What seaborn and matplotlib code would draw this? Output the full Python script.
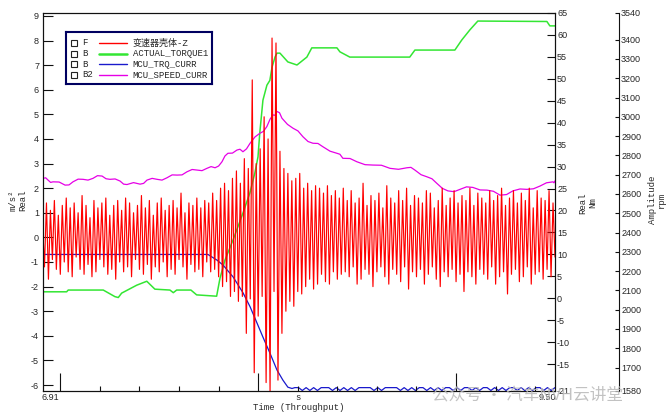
import numpy as np
import pandas as pd
import matplotlib
matplotlib.use("Agg")
import matplotlib.pyplot as plt
import seaborn as sns
from matplotlib.ticker import FixedLocator, NullFormatter

# ---------------- data ----------------
T0, T1 = 6.91, 9.50

# 变速器壳体-Z (m/s^2): one peak and one trough per cycle, cycles evenly spaced
red_hi = [
    0.6, 1.4, 1.1, 1.5, 0.9, 1.3, 1.6, 1.2, 1.4, 1.0,
    1.7, 1.3, 0.8, 1.5, 1.2, 1.4, 1.6, 0.9, 1.3, 1.5,
    1.1, 1.6, 1.4, 1.0, 1.3, 1.7, 1.2, 1.5, 0.9, 1.4,
    1.6, 1.1, 1.3, 1.5, 1.2, 1.8, 1.0, 1.4, 1.3, 1.6,
    1.2, 1.5, 1.4,
    1.8, 1.5, 2.0, 2.2, 1.9, 2.4, 2.7, 2.2, 3.2,
    2.8, 6.4, 3.0, 3.6, 4.9, 4.0, 8.1, 7.9, 3.5, 2.8, 2.6, 2.3,
    2.4, 2.6, 2.0, 2.2, 1.9, 2.1, 2.0, 1.8, 2.1, 1.7, 1.9, 1.6,
    2.0, 1.5, 1.9, 1.4, 1.6, 2.2, 1.3, 1.7, 1.5, 1.8,
    1.2, 2.1, 1.6, 1.4, 1.9, 1.5, 2.0, 1.3, 1.7, 1.6,
    1.4, 1.9, 1.8, 1.2, 1.5, 2.0, 1.3, 1.6, 1.9, 1.4,
    1.7, 1.5, 2.0, 1.3, 1.8, 1.6, 1.4, 1.9, 1.5, 1.7,
    2.0, 1.3, 1.6, 1.9, 1.4, 1.8, 1.5, 2.0, 1.2, 1.9,
    1.6, 1.5, 1.9, 1.4,
]
red_lo = [
    -1.2, -1.7, -0.9, -1.3, -1.5, -1.0, -1.4, -1.6, -0.8, -1.3,
    -1.5, -1.1, -1.6, -1.4, -0.9, -1.2, -1.5, -1.3, -1.7, -1.0,
    -1.4, -1.2, -1.6, -0.9, -1.3, -1.5, -1.1, -1.7, -1.2, -1.4,
    -1.0, -1.6, -1.3, -1.5, -0.9, -1.2, -1.7, -1.1, -1.4, -1.3,
    -1.6, -1.0, -1.4,
    -1.3, -1.6, -2.0, -1.8, -2.4, -2.2, -2.6, -2.4, -3.9,
    -2.5, -5.5, -3.2, -2.4, -5.9, -6.3, -2.2, -5.8, -3.9, -3.0, -2.6, -2.8,
    -2.2, -2.3, -2.0, -1.7, -2.1, -1.9, -1.5, -1.8, -1.9, -1.4, -1.7, -1.5,
    -1.4, -1.6, -1.2, -1.9, -1.7, -1.3, -1.5, -2.0, -1.4, -1.2,
    -1.6, -1.9, -1.3, -1.5, -1.8, -1.2, -2.1, -1.4, -1.6, -1.3,
    -1.9, -1.5, -1.2, -1.7, -2.0, -1.4, -1.6, -1.3, -1.8, -1.5,
    -2.2, -1.4, -1.6, -1.9, -1.3, -1.5, -1.7, -1.2, -1.9, -1.6,
    -1.4, -2.3, -1.5, -1.3, -1.8, -1.6, -1.2, -1.9, -1.5, -1.4,
    -1.7, -1.3, -1.6, -0.8,
]

# ACTUAL_TORQUE1 (Nm)
green_t = [6.910, 7.032, 7.040, 7.217, 7.276, 7.293, 7.310, 7.386, 7.437, 7.478,
           7.554, 7.571, 7.588, 7.621, 7.660, 7.689, 7.790, 7.807, 7.832, 7.873,
           7.923, 7.958, 7.983, 7.999, 8.008, 8.024, 8.044, 8.059, 8.070, 8.085,
           8.095, 8.110, 8.150, 8.196, 8.246, 8.271, 8.398, 8.413, 8.463, 8.766,
           8.792, 8.994, 9.029, 9.070, 9.110, 9.459, 9.474, 9.500]
green_nm = [1.5, 1.5, 1.9, 1.9, 0.4, 0.2, 1.2, 3.0, 3.9, 2.1,
            1.9, 1.3, 1.9, 1.9, 1.9, 0.8, 0.5, 4.6, 8.7, 13.3,
            19.4, 24.0, 28.5, 32.2, 37.6, 45.1, 48.5, 49.6, 52.6, 54.9,
            55.8, 55.8, 53.8, 53.1, 54.9, 57.0, 57.0, 56.1, 54.9, 54.9,
            56.5, 56.5, 58.8, 61.1, 63.1, 63.0, 62.0, 62.0]

# MCU_TRQ_CURR (Nm)
blue_ramp_t = [6.910, 7.746, 7.792, 7.822, 7.873, 7.923, 7.959, 7.994, 8.024, 8.059,
               8.095, 8.125, 8.150, 8.171]
blue_ramp_nm = [10.0, 10.0, 8.7, 7.6, 4.9, 1.3, -1.9, -5.6, -8.8, -12.4,
                -16.3, -18.6, -20.2, -20.5]
blue_tail_nm = [
    -20.3, -20.3, -20.95, -20.3, -20.95, -20.3, -20.95, -20.3, -20.3, -20.3,
    -20.95, -20.3, -20.95, -20.3, -20.95, -20.3, -20.95, -20.3, -20.3, -20.3,
    -20.3, -20.95, -20.3, -20.95, -20.3, -20.3, -20.3, -20.3, -20.95, -20.3,
    -20.95, -20.3, -20.95, -20.3, -20.3, -20.95, -20.3, -20.95, -20.3, -20.95,
    -20.3, -20.3, -20.95, -20.3, -20.95, -20.3, -20.3, -20.95, -20.3, -20.95,
    -20.3, -20.3, -20.95, -20.3, -20.95, -20.3, -20.95, -20.3, -20.3, -20.95,
    -20.3, -20.95, -20.3, -20.95, -20.3, -20.3, -20.95, -20.3, -20.95, -20.3,
]

# MCU_SPEED_CURR (rpm)
mag_t = [6.913, 6.926, 6.938, 6.951, 6.963, 6.994, 7.024, 7.044, 7.064, 7.090,
         7.115, 7.140, 7.165, 7.188, 7.211, 7.231, 7.251, 7.277, 7.302, 7.320,
         7.337, 7.370, 7.403, 7.421, 7.438, 7.464, 7.489, 7.514, 7.539, 7.565,
         7.590, 7.615, 7.640, 7.666, 7.691, 7.716, 7.741, 7.762, 7.782, 7.800,
         7.817, 7.832, 7.847, 7.870, 7.893, 7.908, 7.923, 7.941, 7.959, 7.984,
         8.009, 8.027, 8.044, 8.060, 8.075, 8.085, 8.095, 8.108, 8.120, 8.148,
         8.176, 8.201, 8.226, 8.252, 8.277, 8.302, 8.327, 8.363, 8.398, 8.413,
         8.428, 8.464, 8.499, 8.540, 8.580, 8.623, 8.666, 8.709, 8.752, 8.772,
         8.792, 8.823, 8.853, 8.878, 8.903, 8.931, 8.959, 8.990, 9.020, 9.053,
         9.085, 9.121, 9.156, 9.189, 9.222, 9.255, 9.287, 9.323, 9.358, 9.391,
         9.424, 9.457, 9.490, 9.495, 9.500]
mag_rpm = [2681, 2684, 2672, 2660, 2663, 2662, 2646, 2647, 2663, 2677,
           2676, 2672, 2681, 2695, 2693, 2679, 2676, 2678, 2667, 2651,
           2649, 2659, 2651, 2655, 2672, 2681, 2676, 2672, 2684, 2699,
           2698, 2699, 2715, 2727, 2724, 2721, 2733, 2742, 2736, 2745,
           2767, 2797, 2811, 2812, 2828, 2832, 2819, 2834, 2863, 2896,
           2915, 2925, 2950, 2988, 3010, 3008, 3028, 3021, 2993, 2961,
           2941, 2927, 2897, 2872, 2863, 2862, 2845, 2822, 2811, 2806,
           2785, 2784, 2767, 2752, 2750, 2749, 2733, 2728, 2736, 2738,
           2724, 2700, 2689, 2679, 2655, 2629, 2616, 2612, 2624, 2637,
           2634, 2621, 2620, 2614, 2594, 2597, 2616, 2626, 2624, 2627,
           2641, 2658, 2663, 2658, 2668]

legend_codes = ["F", "B", "B", "B2"]
legend_names = ["变速器壳体-Z", "ACTUAL_TORQUE1", "MCU_TRQ_CURR", "MCU_SPEED_CURR"]
series_colors = ["#ff0000", "#33e633", "#1a1acc", "#e600e6"]

left_ticks = list(range(-6, 10))
nm_ticks = [-21, -15, -10, -5, 0, 5, 10, 15, 20, 25, 30, 35, 40, 45, 50, 55, 60, 65]
nm_long = [-10, 0, 10, 20, 30, 40, 50, 60]
rpm_ticks = [1580, 1700, 1800, 1900, 2000, 2100, 2200, 2300, 2400, 2500, 2600,
             2700, 2800, 2900, 3000, 3100, 3200, 3300, 3400, 3540]
rpm_long = [2000, 2500, 3000]
x_major = [7, 8, 9]
x_minor = [7.2, 7.4, 7.6, 7.8, 8.2, 8.4, 8.6, 8.8, 9.2, 9.4]

# assemble the red signal: peak, trough, peak, trough ...
red_all = np.empty(len(red_hi) + len(red_lo))
red_all[0::2] = red_hi
red_all[1::2] = red_lo
red_t = np.linspace(T0, T1, len(red_all))
blue_tail_t = np.linspace(8.185, T1, len(blue_tail_nm))

# ---------------- style ----------------
sns.set_style("white")
plt.rcParams['font.family'] = ['Liberation Sans', 'Noto Sans CJK SC', 'DejaVu Sans']
plt.rcParams['axes.unicode_minus'] = False
MONO = ['Liberation Mono', 'Noto Sans CJK SC', 'DejaVu Sans']
TS = 6.5

W, H = 668, 418
fig = plt.figure(figsize=(W / 100, H / 100), dpi=100)
fig.patch.set_facecolor('white')
L, R, B, TP = 42.5, 555.0, 390.7, 12.7
ax = fig.add_axes([L / W, 1 - B / H, (R - L) / W, (B - TP) / H])
ax2 = ax.twinx()
ax3 = ax.twinx()
ax3.spines['right'].set_position(('axes', (619 - L) / (R - L)))
for s in ['top', 'left', 'bottom']:
    ax3.spines[s].set_visible(False)
for a in (ax, ax2, ax3):
    for s in a.spines.values():
        s.set_color('#111111')
        s.set_linewidth(0.8)

# ---------------- series ----------------
df_red = pd.DataFrame({'t': red_t, 'v': red_all})
df_green = pd.DataFrame({'t': green_t, 'v': green_nm})
df_blue = pd.DataFrame({'t': np.concatenate([blue_ramp_t, blue_tail_t]),
                        'v': blue_ramp_nm + blue_tail_nm})
df_mag = pd.DataFrame({'t': mag_t, 'v': mag_rpm})

sns.lineplot(data=df_green, x='t', y='v', ax=ax2, color=series_colors[1],
             linewidth=1.1, estimator=None, sort=False)
sns.lineplot(data=df_blue, x='t', y='v', ax=ax2, color=series_colors[2],
             linewidth=0.9, estimator=None, sort=False)
sns.lineplot(data=df_mag, x='t', y='v', ax=ax3, color=series_colors[3],
             linewidth=0.9, estimator=None, sort=False)
sns.lineplot(data=df_red, x='t', y='v', ax=ax, color=series_colors[0],
             linewidth=0.85, estimator=None, sort=False)

ax.set_zorder(ax3.get_zorder() + 1)
ax.patch.set_visible(False)
ax2.patch.set_visible(False)
ax3.patch.set_visible(False)

for a in (ax, ax2, ax3):
    a.set_xlabel('')
    a.set_ylabel('')

# ---------------- axes / ticks ----------------
ax.set_xlim(T0, T1)
ax.set_ylim(-6.23, 9.13)
ax2.set_ylim(-21, 65)
ax3.set_ylim(1580, 3540)

ax.xaxis.set_major_locator(FixedLocator(x_major))
ax.xaxis.set_minor_locator(FixedLocator(x_minor))
ax.tick_params(axis='x', which='major', direction='in', length=13, width=0.8,
               bottom=True, top=False, labelbottom=False, color='#111111')
ax.tick_params(axis='x', which='minor', direction='in', length=3.6, width=0.8,
               bottom=True, top=False, color='#111111')

ax.yaxis.set_major_locator(FixedLocator(left_ticks))
ax.yaxis.set_minor_locator(FixedLocator([0]))
ax.tick_params(axis='y', which='major', direction='in', length=7.2, width=0.8,
               left=True, right=False, labelsize=TS, pad=2.5, color='#111111')
ax.tick_params(axis='y', which='minor', direction='in', length=14.4, width=0.8,
               left=True, right=False, color='#111111')

ax2.yaxis.set_major_locator(FixedLocator(nm_ticks))
ax2.yaxis.set_minor_locator(FixedLocator(nm_long))
ax2.tick_params(axis='y', which='major', direction='in', length=5.8, width=0.8,
                labelsize=TS, pad=1.5, color='#111111')
ax2.tick_params(axis='y', which='minor', direction='in', length=13.7, width=0.8,
                color='#111111')
ax2.tick_params(axis='x', which='both', bottom=False, top=False)

ax3.yaxis.set_major_locator(FixedLocator(rpm_ticks))
ax3.yaxis.set_minor_locator(FixedLocator(rpm_long))
ax3.yaxis.set_minor_formatter(NullFormatter())
ax3.tick_params(axis='y', which='major', direction='in', length=3.0, width=0.8,
                labelsize=TS, pad=1.5, color='#111111')
ax3.tick_params(axis='y', which='minor', direction='in', length=14.4, width=0.8,
                color='#111111')
ax3.tick_params(axis='x', which='both', bottom=False, top=False)

# ---------------- texts ----------------
fig.text(42 / W, 1 - 397 / H, '6.91', ha='left', va='center', fontsize=TS)
fig.text(556 / W, 1 - 397 / H, '9.50', ha='right', va='center', fontsize=TS)
fig.text(298.5 / W, 1 - 397 / H, 's', ha='center', va='center', fontsize=TS, family=MONO)
fig.text(298.5 / W, 1 - 408 / H, 'Time (Throughput)', ha='center', va='center',
         fontsize=TS, family=MONO)
fig.text(17.5 / W, 1 - 200 / H, 'm/s²\nReal', rotation=90, ha='center', va='center',
         multialignment='center', linespacing=1.1, fontsize=TS, family=MONO)
fig.text(588 / W, 1 - 203 / H, 'Real\nNm', rotation=90, ha='center', va='center',
         multialignment='center', linespacing=1.1, fontsize=TS, family=MONO)
fig.text(657 / W, 1 - 200 / H, 'Amplitude\nrpm', rotation=90, ha='center', va='center',
         multialignment='center', linespacing=1.1, fontsize=TS, family=MONO)

# watermark (as in the source image)
fig.text(432 / W, 1 - 395 / H, '公众号 · 汽车NVH云讲堂', ha='left', va='center',
         fontsize=12, color='#b8b8b8', alpha=0.85, family=['Noto Sans CJK SC'], zorder=20)

# ---------------- legend box ----------------
LX0, LY0, LX1, LY1 = 65.7, 32.3, 212.3, 84.0
axl = fig.add_axes([LX0 / W, 1 - LY1 / H, (LX1 - LX0) / W, (LY1 - LY0) / H])
axl.set_zorder(30)
axl.set_xlim(0, LX1 - LX0)
axl.set_ylim(LY1 - LY0, 0)
axl.set_xticks([])
axl.set_yticks([])
axl.set_facecolor('white')
for s in axl.spines.values():
    s.set_visible(True)
    s.set_color('#000060')
    s.set_linewidth(1.5)
row_y = [10.7, 21.3, 32.0, 42.3]
sample_lw = [1.0, 1.8, 1.0, 1.0]
for yy, code, name, col, lw in zip(row_y, legend_codes, legend_names, series_colors, sample_lw):
    axl.plot([8.3], [yy], marker='s', markersize=4.8, markerfacecolor='white',
             markeredgecolor='#222222', markeredgewidth=0.8, linestyle='none')
    axl.text(16.6, yy, code, ha='left', va='center', fontsize=TS, family=MONO)
    axl.plot([33.6, 61.6], [yy, yy], color=col, linewidth=lw)
    axl.text(67.0, yy, name, ha='left', va='center', fontsize=TS, family=MONO)

fig.savefig('out.png', dpi=100, facecolor='white')
